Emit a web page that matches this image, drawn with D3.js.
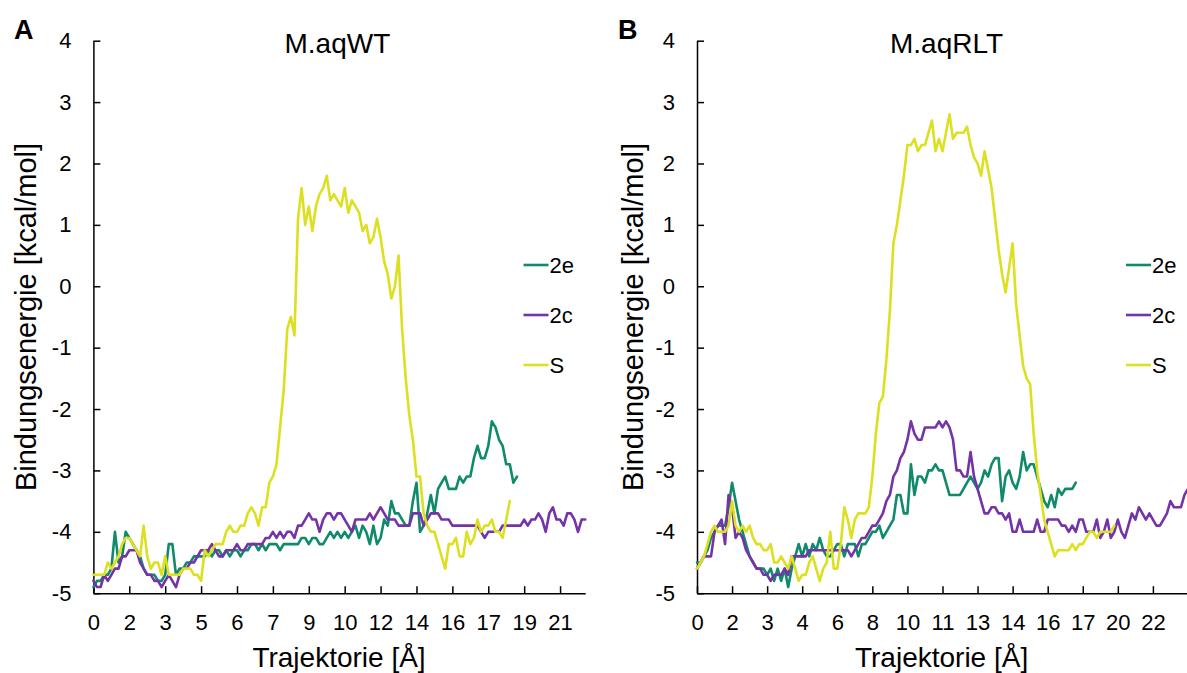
<!DOCTYPE html>
<html><head><meta charset="utf-8">
<script src="https://cdn.jsdelivr.net/npm/d3@7"></script>
<style>body{margin:0;background:#fff}svg{display:block;font-family:"Liberation Sans",Arial,sans-serif}</style>
</head><body><svg id="c" width="1187" height="673"></svg>
<script>
const seriesNames = ["2e", "2c", "S"];
const seriesColors = ["#0f8a6a", "#7533a8", "#dce020"];
const yTickValues = [-5, -4, -3, -2, -1, 0, 1, 2, 3, 4];
const xTickLabelsA = ["0","2","3","5","6","7","9","10","12","14","16","17","19","21"];
const xTickLabelsB = ["0","2","3","4","6","8","10","11","13","14","16","17","20","22"];

// Panel A (M.aqWT)
const a2e = [-4.9,-4.8,-4.8,-4.7,-4.7,-4.6,-4.0,-4.5,-4.4,-4.0,
-4.1,-4.2,-4.3,-4.4,-4.6,-4.7,-4.7,-4.7,-4.8,-4.8,
-4.7,-4.2,-4.2,-4.7,-4.6,-4.6,-4.5,-4.5,-4.4,-4.4,
-4.4,-4.4,-4.3,-4.4,-4.3,-4.3,-4.4,-4.3,-4.4,-4.3,
-4.3,-4.4,-4.3,-4.3,-4.2,-4.2,-4.3,-4.2,-4.3,-4.2,
-4.2,-4.2,-4.3,-4.2,-4.2,-4.2,-4.2,-4.2,-4.1,-4.1,
-4.2,-4.1,-4.1,-4.2,-4.2,-4.1,-4.0,-4.1,-4.0,-4.1,
-4.0,-4.1,-4.0,-3.9,-4.1,-3.9,-4.0,-4.2,-3.9,-4.2,
-4.1,-3.8,-3.9,-3.5,-3.7,-3.7,-3.8,-3.9,-3.9,-3.5,
-3.2,-4.0,-3.9,-3.7,-3.4,-3.7,-3.3,-3.2,-3.1,-3.3,
-3.3,-3.3,-3.1,-3.2,-3.1,-3.1,-2.8,-2.6,-2.8,-2.8,
-2.6,-2.2,-2.3,-2.5,-2.6,-2.9,-2.9,-3.2,-3.1];
const a2c = [-4.8,-4.9,-4.9,-4.7,-4.8,-4.7,-4.6,-4.6,-4.4,-4.4,
-4.3,-4.3,-4.3,-4.5,-4.6,-4.7,-4.7,-4.8,-4.8,-4.9,
-4.8,-4.7,-4.8,-4.9,-4.7,-4.6,-4.6,-4.5,-4.5,-4.4,
-4.3,-4.3,-4.3,-4.2,-4.3,-4.4,-4.4,-4.3,-4.3,-4.3,
-4.2,-4.3,-4.3,-4.2,-4.2,-4.2,-4.2,-4.2,-4.1,-4.1,
-4.0,-4.1,-4.0,-4.1,-4.0,-4.0,-4.1,-3.9,-3.9,-3.8,
-3.7,-3.8,-3.8,-4.0,-3.8,-3.7,-3.7,-3.8,-3.7,-3.7,
-3.8,-3.9,-4.0,-3.8,-3.8,-3.8,-3.8,-3.7,-3.8,-3.7,
-3.6,-3.7,-3.8,-3.8,-3.8,-3.9,-3.9,-3.9,-3.9,-3.7,
-3.7,-3.7,-3.9,-3.8,-3.7,-3.7,-3.7,-3.8,-3.8,-3.8,
-3.9,-3.9,-3.9,-3.9,-3.9,-3.9,-3.9,-3.9,-4.0,-4.1,
-4.0,-4.0,-4.0,-4.0,-3.9,-3.9,-3.9,-3.9,-3.9,-3.9,
-3.8,-3.9,-3.8,-3.8,-3.7,-3.8,-4.0,-3.7,-3.6,-3.8,
-3.8,-3.9,-3.7,-3.7,-3.8,-4.0,-3.8,-3.8];
const aS = [-4.7,-4.7,-4.7,-4.7,-4.5,-4.6,-4.5,-4.4,-4.2,-4.1,
-4.1,-4.2,-4.3,-4.4,-3.9,-4.4,-4.6,-4.5,-4.5,-4.7,
-4.4,-4.7,-4.7,-4.7,-4.7,-4.6,-4.6,-4.6,-4.7,-4.7,
-4.8,-4.3,-4.4,-4.3,-4.2,-4.2,-4.2,-4.0,-3.9,-4.0,
-4.0,-3.9,-3.9,-3.7,-3.6,-3.7,-3.9,-3.6,-3.6,-3.2,
-3.1,-2.9,-2.3,-1.7,-0.7,-0.5,-0.8,1.1,1.6,1.0,
1.3,0.9,1.3,1.5,1.6,1.8,1.4,1.5,1.4,1.3,
1.6,1.2,1.4,1.3,1.2,0.9,1.0,0.7,0.8,1.1,
0.8,0.4,0.2,-0.2,0.0,0.5,-0.7,-1.5,-2.1,-2.5,
-3.1,-3.1,-3.7,-3.9,-4.0,-4.0,-4.2,-4.4,-4.6,-4.2,
-4.2,-4.1,-4.4,-4.4,-4.0,-4.2,-4.1,-3.8,-4.0,-3.9,
-3.9,-3.8,-4.0,-4.0,-4.1,-3.8,-3.5];

// Panel B (M.aqRLT)
const b2e = [-4.5,-4.5,-4.4,-4.3,-4.1,-4.0,-3.9,-3.9,-3.9,-3.6,
-3.2,-3.5,-3.8,-4.0,-4.2,-4.4,-4.5,-4.6,-4.6,-4.6,
-4.7,-4.6,-4.8,-4.6,-4.8,-4.6,-4.9,-4.6,-4.4,-4.2,
-4.4,-4.2,-4.4,-4.2,-4.3,-4.1,-4.3,-4.4,-4.4,-4.3,
-4.2,-4.2,-4.4,-4.2,-4.2,-4.2,-4.4,-4.2,-4.2,-4.1,
-4.0,-4.0,-3.9,-4.1,-4.0,-3.9,-3.8,-3.4,-3.4,-3.7,
-3.7,-2.9,-3.4,-3.1,-3.1,-3.2,-3.0,-3.0,-2.9,-3.0,
-3.0,-3.2,-3.4,-3.4,-3.4,-3.4,-3.3,-3.2,-3.1,-3.2,
-3.3,-3.2,-3.0,-3.1,-2.9,-2.8,-2.8,-3.5,-3.1,-3.0,
-3.2,-3.3,-3.1,-2.7,-3.0,-2.9,-2.9,-3.1,-3.3,-3.5,
-3.6,-3.4,-3.6,-3.3,-3.4,-3.3,-3.3,-3.3,-3.2];
const b2c = [-4.6,-4.5,-4.4,-4.4,-4.4,-4.0,-3.9,-3.8,-4.2,-3.4,
-3.6,-4.1,-4.0,-4.1,-4.3,-4.4,-4.5,-4.6,-4.6,-4.7,
-4.7,-4.8,-4.7,-4.7,-4.7,-4.6,-4.7,-4.4,-4.4,-4.4,
-4.4,-4.4,-4.3,-4.3,-4.3,-4.3,-4.3,-4.3,-4.3,-4.3,
-4.3,-4.3,-4.3,-4.3,-4.4,-4.3,-4.2,-4.1,-4.1,-4.0,
-3.9,-3.9,-3.8,-3.7,-3.5,-3.4,-3.1,-3.0,-2.8,-2.7,
-2.5,-2.2,-2.4,-2.5,-2.5,-2.3,-2.3,-2.3,-2.3,-2.2,
-2.3,-2.2,-2.3,-2.5,-3.0,-3.0,-3.1,-3.1,-2.7,-3.1,
-3.3,-3.5,-3.7,-3.7,-3.6,-3.6,-3.7,-3.7,-3.8,-3.7,
-4.0,-4.0,-3.8,-4.0,-4.0,-4.0,-4.0,-3.8,-4.0,-4.0,
-3.8,-3.8,-3.8,-3.8,-3.9,-3.9,-4.0,-3.9,-4.0,-3.8,
-3.8,-4.0,-4.0,-4.0,-3.8,-4.1,-4.0,-3.8,-4.1,-4.0,
-3.8,-4.0,-4.1,-3.9,-3.7,-3.8,-3.6,-3.7,-3.8,-3.7,
-3.8,-3.9,-3.9,-3.8,-3.7,-3.5,-3.6,-3.6,-3.6,-3.4,-3.3];
const bS = [-4.6,-4.5,-4.4,-4.2,-4.0,-3.9,-4.0,-4.0,-4.0,-3.9,
-3.5,-3.9,-4.0,-3.9,-4.0,-3.9,-4.1,-4.2,-4.2,-4.3,
-4.3,-4.2,-4.5,-4.5,-4.4,-4.5,-4.6,-4.4,-4.6,-4.8,
-4.7,-4.7,-4.5,-4.4,-4.6,-4.8,-4.6,-4.5,-4.0,-4.6,
-4.6,-4.2,-3.6,-3.8,-4.1,-3.8,-3.7,-3.7,-3.7,-3.6,
-3.1,-2.4,-1.9,-1.8,-1.2,-0.4,0.7,1.0,1.4,1.8,
2.3,2.3,2.4,2.2,2.3,2.3,2.5,2.7,2.2,2.4,
2.2,2.5,2.8,2.4,2.5,2.5,2.5,2.6,2.3,2.1,
2.0,1.8,2.2,1.9,1.6,1.1,0.6,0.2,-0.1,0.3,
0.7,-0.3,-0.8,-1.3,-1.5,-1.6,-2.4,-3.0,-3.4,-3.8,
-4.0,-4.2,-4.4,-4.3,-4.3,-4.3,-4.3,-4.2,-4.3,-4.2,
-4.2,-4.1,-4.0,-4.0,-4.1,-4.0,-4.0,-4.0,-4.0,-3.9];

const panels = [
  {letter: "A", title: "M.aqWT", tickLabels: xTickLabelsA, series: [a2e, a2c, aS],
   left: 93.4, right: 585.2, nMax: 137, letterX: 14, yTitleX: 36.4, titleX: 337.4, xTitleX: 339,
   legendX: 523.5},
  {letter: "B", title: "M.aqRLT", tickLabels: xTickLabelsB, series: [b2e, b2c, bS],
   left: 697, right: 697 + 142 * 3.507, nMax: 142, letterX: 618, yTitleX: 643, titleX: 946.5, xTitleX: 941.6,
   legendX: 1126}
];

const svg = d3.select("#c");
const plotTop = 40.7, plotBottom = 593.2;
const y = d3.scaleLinear().domain([-5, 4]).range([plotBottom, plotTop]);

panels.forEach(p => {
  const g = svg.append("g");
  const x = d3.scaleLinear().domain([0, p.nMax]).range([p.left, p.right]);

  const ya = g.append("g").attr("transform", `translate(${p.left},0)`)
    .call(d3.axisLeft(y).tickValues(yTickValues).tickFormat(d => String(d)).tickSizeInner(-7).tickSizeOuter(0).tickPadding(22));
  const xa = g.append("g").attr("transform", `translate(0,${plotBottom})`)
    .call(d3.axisBottom(x).tickValues(p.tickLabels.map((_, i) => i * 10))
      .tickFormat((d, i) => p.tickLabels[i]).tickSizeInner(-7).tickSizeOuter(0).tickPadding(21));
  [ya, xa].forEach(a => {
    a.select(".domain").attr("stroke", "#000").attr("stroke-width", 1.5);
    a.selectAll(".tick line").attr("stroke", "#000").attr("stroke-width", 1.5);
    a.selectAll(".tick text").attr("fill", "#000").style("font-size", "22px").style("font-family", '"Liberation Sans", Arial, sans-serif');
  });

  const line = d3.line().x((d, i) => x(i)).y(d => y(d));
  p.series.forEach((s, k) => {
    g.append("path").datum(s).attr("d", line).attr("fill", "none")
      .attr("stroke", seriesColors[k]).attr("stroke-width", 2.6)
      .attr("stroke-linejoin", "round").attr("stroke-linecap", "round");
  });

  seriesNames.forEach((n, k) => {
    const ly = 265 + k * 50;
    g.append("line").attr("x1", p.legendX).attr("x2", p.legendX + 25).attr("y1", ly).attr("y2", ly)
      .attr("stroke", seriesColors[k]).attr("stroke-width", 2.6);
    g.append("text").attr("x", p.legendX + 26).attr("y", ly + 8).text(n)
      .style("font-size", "22px").attr("fill", "#000");
  });

  g.append("text").attr("x", p.titleX).attr("y", 53.3).attr("text-anchor", "middle")
    .style("font-size", "28px").text(p.title);
  g.append("text").attr("x", p.letterX).attr("y", 39).style("font-size", "27px").style("font-weight", "bold").text(p.letter);
  g.append("text").attr("transform", `translate(${p.yTitleX},317) rotate(-90)`).attr("text-anchor", "middle")
    .style("font-size", "29px").text("Bindungsenergie [kcal/mol]");
  g.append("text").attr("x", p.xTitleX).attr("y", 667).attr("text-anchor", "middle")
    .style("font-size", "28px").text("Trajektorie [Å]");
});
</script></body></html>
